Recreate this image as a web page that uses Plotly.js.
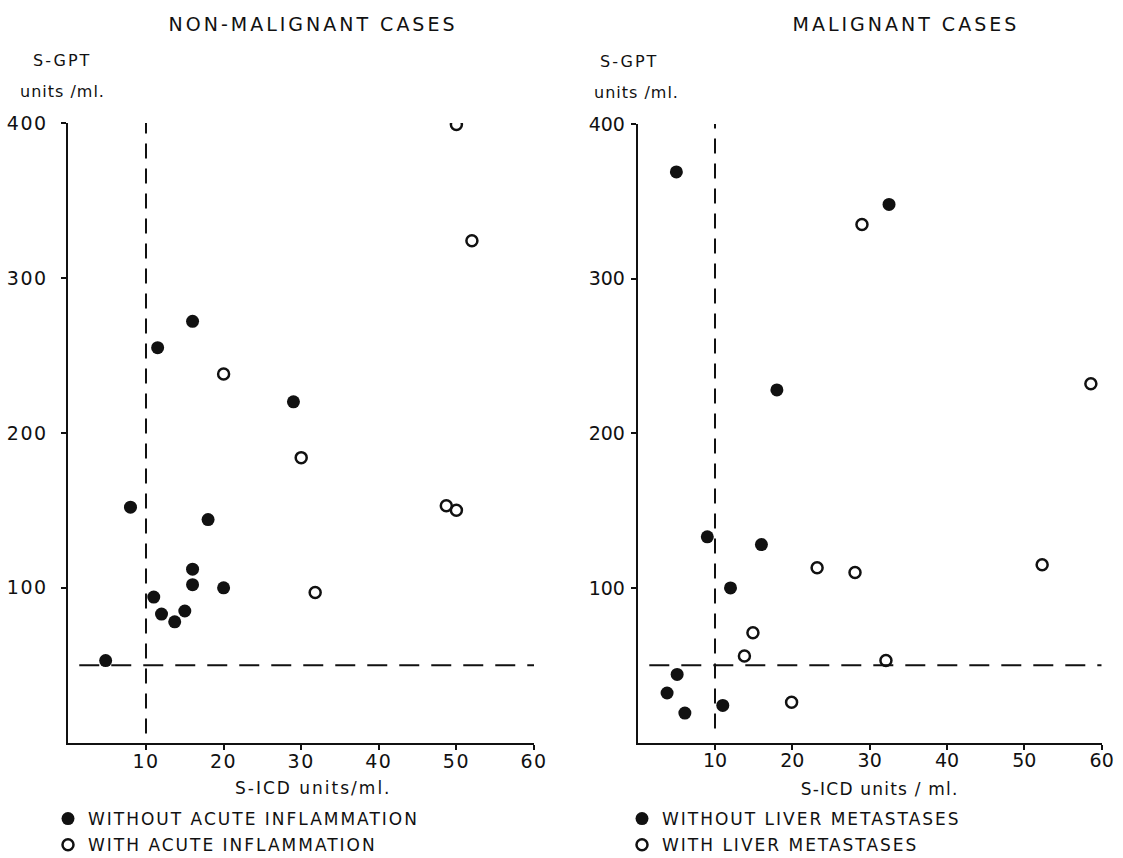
<!DOCTYPE html>
<html>
<head>
<meta charset="utf-8">
<script src="https://cdn.plot.ly/plotly-3.0.1.min.js"></script>
<style>
  html, body { margin: 0; padding: 0; background: #fff; }
  #chart { width: 1123px; height: 858px; }
  .annotation[data-index="0"] text, .annotation[data-index="1"] text { letter-spacing: 3px; }
  .annotation[data-index="2"] text, .annotation[data-index="4"] text { letter-spacing: 2px; }
  .annotation[data-index="3"] text, .annotation[data-index="5"] text { letter-spacing: 1px; }
  .annotation[data-index="6"] text { letter-spacing: 2px; }
  .annotation[data-index="7"] text { letter-spacing: 1.2px; }
  .infolayer [class*="legend"] text { letter-spacing: 2px !important; }
  .xtick text, .ytick text { letter-spacing: 1.5px; }
</style>
</head>
<body>
<div id="chart"></div>
<script>
// ---- Data ----
// Non-malignant cases
const nmWithoutX = [4.8, 8, 11, 11.5, 12, 13.7, 15, 16, 16, 16, 18, 20, 29];
const nmWithoutY = [53, 152, 94, 255, 83, 78, 85, 272, 112, 102, 144, 100, 220];
const nmWithX = [20, 30, 31.8, 48.7, 50, 50, 52];
const nmWithY = [238, 184, 97, 153, 150, 399, 324];
// Malignant cases
const mWithoutX = [3.8, 5, 5.1, 6.1, 9, 11, 12, 16, 18, 32.5];
const mWithoutY = [32, 369, 44, 19, 133, 24, 100, 128, 228, 348];
const mWithX = [13.8, 14.9, 19.9, 23.2, 28.1, 29, 32.1, 52.3, 58.6];
const mWithY = [56, 71, 26, 113, 110, 335, 53, 115, 232];

// Axis ticks and cut-off values
const xTicks = [10, 20, 30, 40, 50, 60];
const yTicks = [100, 200, 300, 400];
const icdCutoff = 10;
const gptCutoff = 50;

const FONT = 'DejaVu Sans, sans-serif';
const INK = '#111';

const filled = {symbol: 'circle', size: 13, color: INK};
const open = {symbol: 'circle-open', size: 11, color: INK, line: {width: 2.5, color: INK}};

const traces = [
  {x: nmWithoutX, y: nmWithoutY, type: 'scatter', mode: 'markers', marker: filled,
   name: 'WITHOUT ACUTE INFLAMMATION', xaxis: 'x', yaxis: 'y', legend: 'legend', legendgroup: 'a'},
  {x: nmWithX, y: nmWithY, type: 'scatter', mode: 'markers', marker: open,
   name: 'WITH ACUTE INFLAMMATION', xaxis: 'x', yaxis: 'y', legend: 'legend', legendgroup: 'b'},
  {x: mWithoutX, y: mWithoutY, type: 'scatter', mode: 'markers', marker: filled,
   name: 'WITHOUT LIVER METASTASES', xaxis: 'x2', yaxis: 'y2', legend: 'legend2', legendgroup: 'c'},
  {x: mWithX, y: mWithY, type: 'scatter', mode: 'markers', marker: open,
   name: 'WITH LIVER METASTASES', xaxis: 'x2', yaxis: 'y2', legend: 'legend2', legendgroup: 'd'}
];

function xAxis(domain, anchor) {
  return {
    domain: domain, anchor: anchor, range: [0, 60], tickvals: xTicks,
    showline: true, linecolor: INK, linewidth: 2, ticks: 'outside', ticklen: 5, tickwidth: 2,
    tickcolor: INK, showgrid: false, zeroline: false, fixedrange: true,
    tickfont: {family: FONT, size: 19, color: INK}, ticklabelstandoff: -5
  };
}
function yAxis(domain, anchor, standoff) {
  return {
    domain: domain, anchor: anchor, range: [0, 400], tickvals: yTicks,
    showline: true, linecolor: INK, linewidth: 2, ticks: 'outside', ticklen: 5, tickwidth: 2,
    tickcolor: INK, showgrid: false, zeroline: false, fixedrange: true,
    tickfont: {family: FONT, size: 19, color: INK}, ticklabelstandoff: standoff
  };
}

const dashV = {color: INK, width: 2, dash: '15px,10px'};
const dashH = {color: INK, width: 2, dash: '20px,12px'};

const W = 1123, H = 858;
function px(x) { return x / W; }
function py(y) { return 1 - y / H; }

function ann(text, x, y, size) {
  return {text: text, x: px(x), y: py(y), xref: 'paper', yref: 'paper', showarrow: false,
          xanchor: 'center', yanchor: 'middle', font: {family: FONT, size: size, color: INK}};
}

const legendStyle = {font: {family: FONT, size: 17, color: INK}, bgcolor: 'rgba(0,0,0,0)',
                     traceorder: 'grouped', tracegroupgap: 1, xanchor: 'left', yanchor: 'bottom',
                     xref: 'container', yref: 'container',
                     itemclick: false, itemdoubleclick: false};

const layout = {
  width: W, height: H,
  margin: {l: 0, r: 0, t: 0, b: 0, autoexpand: false},
  paper_bgcolor: '#fff', plot_bgcolor: 'rgba(0,0,0,0)',
  showlegend: true,
  xaxis: xAxis([68.4 / W, 534 / W], 'y'),
  yaxis: yAxis([1 - 742.7 / H, 1 - 123 / H], 'x', 10),
  xaxis2: xAxis([637.7 / W, 1101.7 / W], 'y2'),
  yaxis2: yAxis([1 - 742.5 / H, 1 - 124 / H], 'x2', 2),
  legend: Object.assign({x: px(48), y: 0}, legendStyle),
  legend2: Object.assign({x: px(622), y: 0}, legendStyle),
  shapes: [
    {type: 'line', xref: 'x', yref: 'y', x0: icdCutoff, x1: icdCutoff, y0: 6, y1: 400, line: dashV},
    {type: 'line', xref: 'x', yref: 'y', x0: 1.4, x1: 60, y0: gptCutoff, y1: gptCutoff, line: dashH},
    {type: 'line', xref: 'x2', yref: 'y2', x0: icdCutoff, x1: icdCutoff, y0: 9, y1: 400, line: dashV},
    {type: 'line', xref: 'x2', yref: 'y2', x0: 1.5, x1: 60, y0: gptCutoff, y1: gptCutoff, line: dashH}
  ],
  annotations: [
    ann('NON-MALIGNANT CASES', 313, 24, 19),
    ann('MALIGNANT CASES', 906, 24, 19),
    ann('S-GPT', 62, 61, 16),
    ann('units /ml.', 63, 91, 16),
    ann('S-GPT', 629, 62, 16),
    ann('units /ml.', 636, 93, 16),
    ann('S-ICD units/ml.', 313, 788, 17),
    ann('S-ICD units / ml.', 879, 789, 17)
  ]
};

Plotly.newPlot('chart', traces, layout, {displayModeBar: false, staticPlot: true}).then(function () {
  // let the letter-spaced legend text show in full, and sit the legend rows where the reference has them
  document.querySelectorAll('.infolayer .scrollbox').forEach(function (el) {
    el.removeAttribute('clip-path');
  });
  document.querySelectorAll('.infolayer > g[class^="legend"]').forEach(function (g) {
    const t = g.getAttribute('transform') || '';
    const m = t.match(/translate\(([-\d.]+)[ ,]+([-\d.]+)\)/);
    if (m) g.setAttribute('transform', 'translate(' + m[1] + ',' + (parseFloat(m[2]) + 5) + ')');
  });
});
</script>
</body>
</html>
